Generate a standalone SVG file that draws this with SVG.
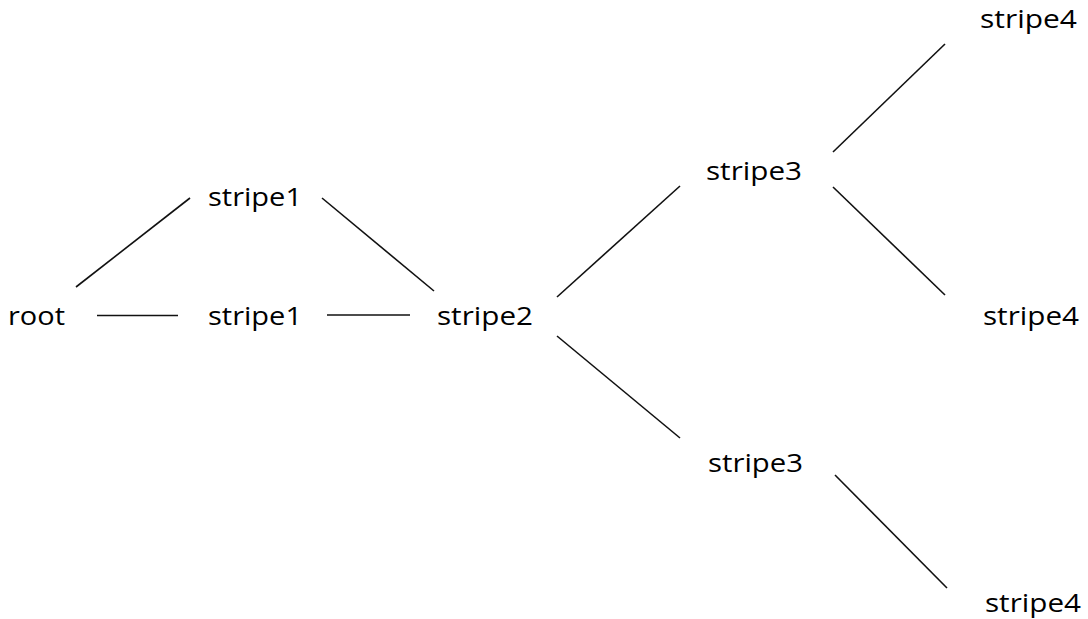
<svg xmlns="http://www.w3.org/2000/svg" width="1088" height="619" viewBox="0 0 1088 619">
  <style>
    .lbl { font-family: "Open Sans", "Liberation Sans", sans-serif; font-size: 26px; fill: #000; }
    .edge { stroke: #111; stroke-width: 1.6; fill: none; }
  </style>
  <rect width="1088" height="619" fill="#fff"/>
  <!-- tree edges -->
  <g id="connectors">
    <line class="edge" x1="76" y1="287" x2="190" y2="198"/>
    <line class="edge" x1="322" y1="198" x2="434" y2="291"/>
    <line class="edge" x1="97" y1="315.5" x2="178" y2="315.5"/>
    <line class="edge" x1="327" y1="315" x2="410" y2="315"/>
    <line class="edge" x1="557" y1="297" x2="680" y2="186"/>
    <line class="edge" x1="557" y1="336" x2="680" y2="438"/>
    <line class="edge" x1="833" y1="152" x2="945" y2="44"/>
    <line class="edge" x1="833" y1="187" x2="945" y2="295"/>
    <line class="edge" x1="835" y1="475" x2="947" y2="588"/>
  </g>
  <!-- tree nodes -->
  <g id="root"><text class="lbl" x="8" y="325" textLength="57" lengthAdjust="spacingAndGlyphs">root</text></g>
  <g id="stripe1-top"><text class="lbl" x="208" y="206" textLength="94" lengthAdjust="spacingAndGlyphs">stripe1</text></g>
  <g id="stripe1-mid"><text class="lbl" x="208" y="325" textLength="94" lengthAdjust="spacingAndGlyphs">stripe1</text></g>
  <g id="stripe2"><text class="lbl" x="437" y="325" textLength="96" lengthAdjust="spacingAndGlyphs">stripe2</text></g>
  <g id="stripe3-top"><text class="lbl" x="706" y="180" textLength="96" lengthAdjust="spacingAndGlyphs">stripe3</text></g>
  <g id="stripe3-bot"><text class="lbl" x="708" y="472" textLength="95" lengthAdjust="spacingAndGlyphs">stripe3</text></g>
  <g id="stripe4-top"><text class="lbl" x="980" y="28" textLength="97" lengthAdjust="spacingAndGlyphs">stripe4</text></g>
  <g id="stripe4-mid"><text class="lbl" x="983" y="325" textLength="96" lengthAdjust="spacingAndGlyphs">stripe4</text></g>
  <g id="stripe4-bot"><text class="lbl" x="985" y="612" textLength="96" lengthAdjust="spacingAndGlyphs">stripe4</text></g>
</svg>
